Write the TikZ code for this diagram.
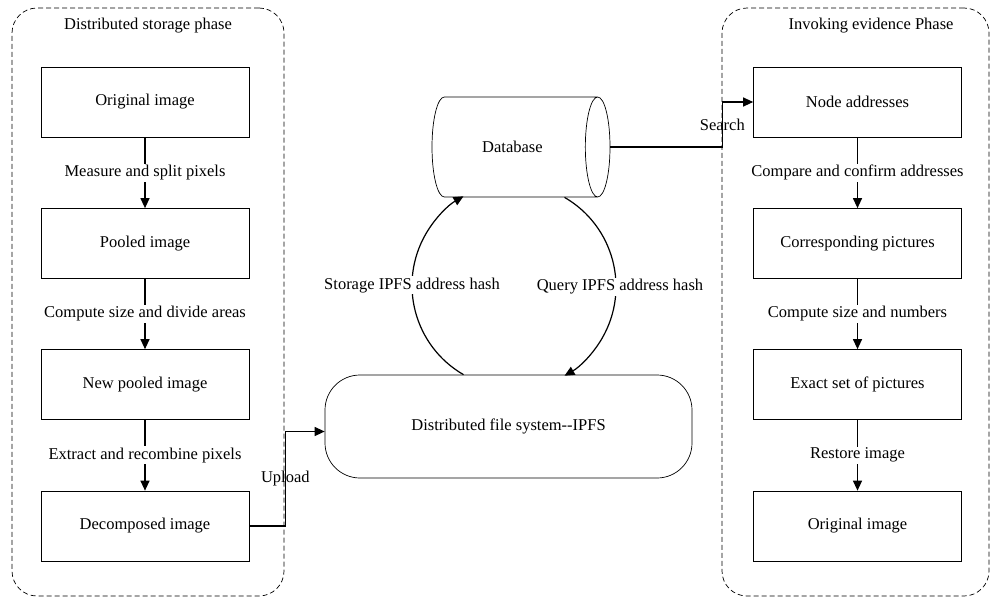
\documentclass[tikz,border=0pt]{standalone}
\usepackage{fontspec}
\setmainfont{Liberation Serif}
\usetikzlibrary{shapes.geometric,arrows.meta}
\begin{document}
\begin{tikzpicture}[x=1pt,y=1pt,font=\fontsize{16.5}{20}\selectfont]
		\tikzstyle{ST}=[rectangle,draw=black,line width=0.7pt,minimum width=208pt,minimum height=70pt]
		\tikzstyle{PH}=[rectangle,draw=black,dash pattern=on 5pt off 3pt,line width=0.7pt,rounded corners=25pt]
		\tikzstyle{LB}=[fill=white,inner sep=1.5pt]
		\tikzstyle{AR}=[-{Triangle[length=10pt,width=9pt]},line width=1.2pt]
		\useasboundingbox (0,0) rectangle (992,-597);
		% the two phases
		\begin{scope}
		\node[PH,minimum width=272pt,minimum height=588pt] (P-L) at (148,-302) {};
		\node[PH,minimum width=267pt,minimum height=588pt] (P-R) at (855.5,-302) {};
		\node (T-L) at (148,-26) {Distributed storage phase};
		\node (T-R) at (871,-26) {Invoking evidence Phase};
		\end{scope}
		
		\begin{scope}
		\node[ST] (L-1) at (145,-102)   {Original image};
		\node[ST] (L-2) at (145,-243.5) {Pooled image};
		\node[ST] (L-3) at (145,-384.5) {New pooled image};
		\node[ST] (L-4) at (145,-526)   {Decomposed image};
		\node[ST] (R-1) at (857.5,-102)   {Node addresses};
		\node[ST] (R-2) at (857.5,-243.5) {Corresponding pictures};
		\node[ST] (R-3) at (857.5,-384.5) {Exact set of pictures};
		\node[ST] (R-4) at (857.5,-526)   {Original image};
		\node[cylinder,draw=black,line width=0.7pt,aspect=1.35,minimum height=178pt,minimum width=100pt,anchor=shape center] (DB) at (521,-147) {Database};
		\node[draw=black,line width=0.7pt,rounded corners=35pt,minimum width=367pt,minimum height=103pt] (IPFS) at (508.5,-426.5) {Distributed file system-{}-IPFS};
		\end{scope}
		
		\path[AR]
		(L-1) edge node[LB] {Measure and split pixels} (L-2)
		(L-2) edge node[LB] {Compute size and divide areas} (L-3)
		(L-3) edge node[LB] {Extract and recombine pixels} (L-4)
		(R-1) edge node[LB] {Compare and confirm addresses} (R-2)
		(R-2) edge node[LB] {Compute size and numbers} (R-3)
		(R-3) edge node[LB] {Restore image} (R-4)
		;
		
		\draw[AR] (L-4.east) -- ++(36,0) |- node[pos=0.25] {Upload} ([yshift=-5pt]IPFS.west);
		\draw[AR] (DB.east) -- ++(112,0) |- node[pos=0.25] {Search} (R-1.west);
		\draw[AR] ([xshift=-45pt]IPFS.north) arc[start angle=240,end angle=120,radius=103pt]
		node[LB,pos=0.5] {Storage IPFS address hash};
		\draw[AR] ([xshift=56pt]IPFS.north |- DB.south) arc[start angle=60,end angle=-60,radius=103pt]
		node[LB,pos=0.5,xshift=4pt] {Query IPFS address hash};
		\end{tikzpicture}
\end{document}
